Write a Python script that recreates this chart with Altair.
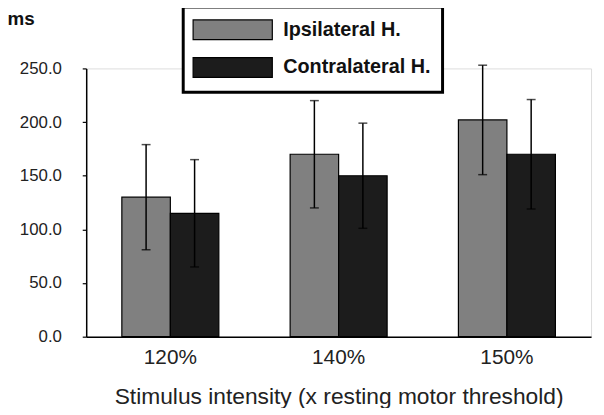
import altair as alt
import pandas as pd

categories = ["120%", "140%", "150%"]
series = ["Ipsilateral H.", "Contralateral H."]
ipsi_mean = [130, 170, 202]
ipsi_err = [49, 50, 51]
contra_mean = [115, 150, 170]
contra_err = [50, 49, 51]
colors = ["#808080", "#1c1c1c"]

rows = []
for i, c in enumerate(categories):
    rows.append({"cat": c, "series": series[0], "mean": ipsi_mean[i],
                 "lo": ipsi_mean[i] - ipsi_err[i], "hi": ipsi_mean[i] + ipsi_err[i]})
    rows.append({"cat": c, "series": series[1], "mean": contra_mean[i],
                 "lo": contra_mean[i] - contra_err[i], "hi": contra_mean[i] + contra_err[i]})
df = pd.DataFrame(rows)

FONT = "Liberation Sans"
NBSP = "\u00a0"

x = alt.X("cat:N", sort=categories,
          scale=alt.Scale(paddingInner=0, paddingOuter=0),
          axis=alt.Axis(title="Stimulus intensity (x resting motor threshold)",
                        labelAngle=0, labelFontSize=21, labelPadding=10,
                        labelColor="#222", ticks=False,
                        titleFontSize=23, titleFontWeight="normal", titleColor="#222",
                        titlePadding=19, domainColor="black", domainWidth=1.5))
xo = alt.XOffset("series:N", sort=series,
                 scale=alt.Scale(paddingInner=0, paddingOuter=0.735))

base = alt.Chart(df)

bars = base.mark_bar(stroke="black", strokeWidth=1.2, opacity=1).encode(
    x=x, xOffset=xo,
    y=alt.Y("mean:Q", scale=alt.Scale(domain=[0, 250], nice=False),
            axis=alt.Axis(values=[0, 50, 100, 150, 200, 250], format=".1f",
                          title="ms", titleAngle=0, titleX=-80, titleY=-50,
                          titleAlign="left", titleBaseline="middle",
                          titleFontSize=19, titleFontWeight="bold", titleColor="#111",
                          labelFontSize=17, labelColor="#222", labelPadding=21,
                          tickSize=4, tickColor="black", tickWidth=1.2,
                          domainColor="black", domainWidth=1.5, grid=False)),
    color=alt.Color("series:N", sort=series,
                    scale=alt.Scale(domain=series, range=colors),
                    legend=alt.Legend(title=None, orient="none", legendX=98, legendY=-62,
                                      direction="vertical",
                                      symbolType="M-1,-1H7V1H-1Z", symbolSize=400,
                                      symbolStrokeColor="black", symbolStrokeWidth=1.2,
                                      symbolOpacity=1, symbolOffset=-3, labelOffset=70,
                                      labelExpr="datum.label + '" + NBSP * 4 + "'",
                                      labelLimit=400,
                                      labelFontSize=20, labelFontWeight="bold",
                                      labelColor="#111", padding=12,
                                      strokeColor="black",
                                      fillColor="white")),
)

rules = base.mark_rule(color="black", strokeWidth=1.5).encode(
    x=x, xOffset=xo, y="lo:Q", y2="hi:Q")

caps_hi = base.mark_tick(color="black", thickness=1.5, size=9, orient="horizontal").encode(
    x=x, xOffset=xo, y="hi:Q")
caps_lo = base.mark_tick(color="black", thickness=1.5, size=9, orient="horizontal").encode(
    x=x, xOffset=xo, y="lo:Q")

chart = alt.layer(bars, rules, caps_hi, caps_lo).properties(
    width=510, height=271,
    autosize=alt.AutoSizeParams(type="none"),
    padding={"left": 79, "top": 59, "right": 5, "bottom": 70},
).configure_view(stroke=None).configure(font=FONT).configure_legend(
    rowPadding=12, strokeWidth=3)

chart.save("out.html", embed_options={"renderer": "svg", "actions": False})
